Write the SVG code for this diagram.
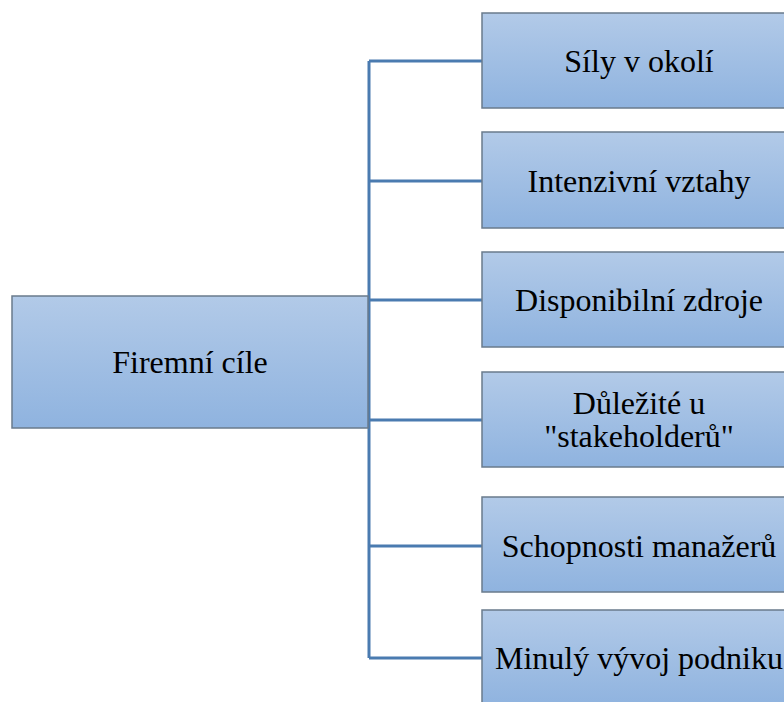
<svg xmlns="http://www.w3.org/2000/svg" width="784" height="702" viewBox="0 0 784 702">
<defs>
<linearGradient id="g" x1="0" y1="0" x2="0" y2="1">
<stop offset="0" stop-color="#b2cae8"/>
<stop offset="1" stop-color="#8fb3df"/>
</linearGradient>
</defs>
<style>
.box{fill:url(#g);stroke:#6a7b8c;stroke-width:1.5}
.t{font-family:"Liberation Serif","Times New Roman",serif;font-size:32px;fill:#000;text-anchor:middle}
.c{fill:none;stroke:#4a7bb0;stroke-width:3}
</style>
<rect width="784" height="702" fill="#fff"/>
<g id="connectors">
<path class="c" d="M369 61V658"/>
<path class="c" d="M369 61H482M369 181H482M369 300H482M369 420H482M369 546H482M369 658H482"/>
</g>
<g id="n0"><rect class="box" x="12" y="296" width="356" height="132"/><text class="t" x="190" y="373">Firemní cíle</text></g>
<g id="n1"><rect class="box" x="482" y="13" width="316" height="95"/><text class="t" x="639" y="72">Síly v okolí</text></g>
<g id="n2"><rect class="box" x="482" y="132" width="316" height="96"/><text class="t" x="639" y="192">Intenzivní vztahy</text></g>
<g id="n3"><rect class="box" x="482" y="252" width="316" height="95"/><text class="t" x="639" y="311">Disponibilní zdroje</text></g>
<g id="n4"><rect class="box" x="482" y="372" width="316" height="95"/><text class="t" x="639" y="414">Důležité u</text><text class="t" x="639" y="447">"stakeholderů"</text></g>
<g id="n5"><rect class="box" x="482" y="497" width="316" height="95"/><text class="t" x="639" y="557">Schopnosti manažerů</text></g>
<g id="n6"><rect class="box" x="482" y="610" width="316" height="96"/><text class="t" x="639" y="669">Minulý vývoj podniku</text></g>
</svg>
